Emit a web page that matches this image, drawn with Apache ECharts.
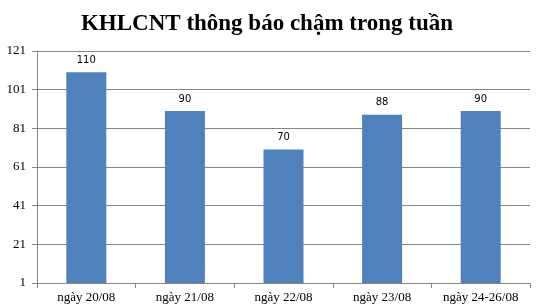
<!DOCTYPE html>
<html><head><meta charset="utf-8">
<script src="https://cdn.jsdelivr.net/npm/echarts@6/dist/echarts.min.js"></script>
<style>html,body{margin:0;padding:0;background:#fff}#c{width:541px;height:306px}</style>
</head><body><div id="c"></div>
<script>
const titleText = 'KHLCNT thông báo chậm trong tuần';
const categories = ['ngày 20/08', 'ngày 21/08', 'ngày 22/08', 'ngày 23/08', 'ngày 24-26/08'];
const values = [110, 90, 70, 88, 90];
const yMin = 1, yMax = 121, yStep = 20;

const chart = echarts.init(document.getElementById('c'));
chart.setOption({
  animation: false,
  title: {
    text: titleText, left: 262, textAlign: 'center', top: 8,
    textStyle: {fontFamily: 'Liberation Serif', fontWeight: 'bold', fontSize: 23, color: '#000'}
  },
  grid: {left: 37, right: 11, top: 51, bottom: 23, containLabel: false},
  xAxis: {
    type: 'category', data: categories,
    axisLine: {lineStyle: {color: '#868686'}},
    axisTick: {show: true, alignWithLabel: false, length: 5, lineStyle: {color: '#868686'}},
    axisLabel: {fontFamily: 'Liberation Serif', fontSize: 13, color: '#000', margin: 8, interval: 0}
  },
  yAxis: {
    type: 'value', min: yMin, max: yMax, interval: yStep,
    axisLine: {show: true, lineStyle: {color: '#868686'}},
    axisTick: {show: true, length: 5, lineStyle: {color: '#868686'}},
    splitLine: {lineStyle: {color: '#868686'}},
    axisLabel: {fontFamily: 'Liberation Serif', fontSize: 13, color: '#000', margin: 11}
  },
  series: [{
    type: 'bar', data: values, barWidth: 40,
    itemStyle: {color: '#4F81BD'},
    label: {show: true, position: 'top', distance: 7, fontFamily: 'DejaVu Sans', fontSize: 10, color: '#000'}
  }]
});
</script></body></html>
